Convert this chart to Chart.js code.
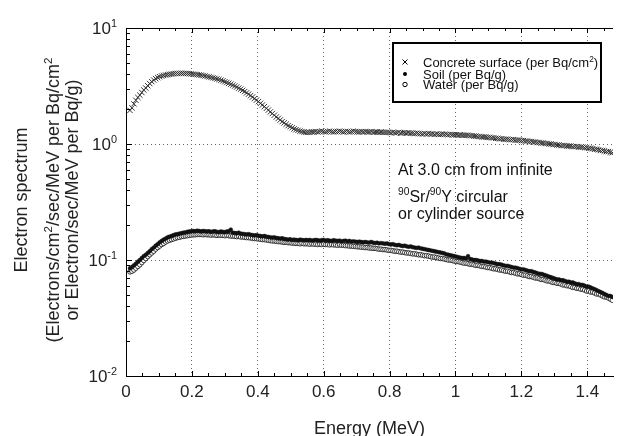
<!DOCTYPE html>
<html lang="en">
<head>
<meta charset="UTF-8">
<title>Electron spectrum</title>
<script src="https://cdn.jsdelivr.net/npm/chart.js"></script>
<style>
  html, body { margin: 0; padding: 0; background: #fff; }
  #wrap { position: relative; width: 618px; height: 436px; }
</style>
</head>
<body>
<div id="wrap"><canvas id="spectrum" width="618" height="436"></canvas></div>
<script>
// energy grid (MeV): first point and spacing of the sampled spectrum
const E_FIRST = 0.012, E_STEP = 0.006;

// Concrete surface (per Bq/cm2)
const concrete = [
  1.95,2.05,2.22,2.38,2.52,2.64,2.78,2.92,3.04,3.18,
  3.32,3.45,3.56,3.66,3.74,3.80,3.86,3.90,3.93,3.96,
  3.99,4.01,4.03,4.05,4.06,4.06,4.07,4.06,4.06,4.05,
  4.04,4.02,4.00,3.98,3.96,3.94,3.92,3.89,3.86,3.82,
  3.79,3.75,3.72,3.68,3.64,3.60,3.55,3.50,3.44,3.39,
  3.34,3.28,3.22,3.16,3.10,3.03,2.97,2.90,2.83,2.76,
  2.69,2.61,2.54,2.46,2.39,2.32,2.24,2.17,2.10,2.03,
  1.96,1.89,1.83,1.77,1.71,1.66,1.61,1.56,1.52,1.48,
  1.44,1.41,1.38,1.35,1.33,1.31,1.29,1.28,1.27,1.26,
  1.26,1.26,1.27,1.27,1.28,1.27,1.28,1.29,1.28,1.27,
  1.28,1.29,1.28,1.27,1.28,1.28,1.29,1.28,1.27,1.28,
  1.28,1.27,1.28,1.29,1.28,1.27,1.27,1.28,1.27,1.28,
  1.27,1.27,1.28,1.26,1.27,1.27,1.26,1.27,1.26,1.26,
  1.26,1.26,1.25,1.26,1.25,1.25,1.26,1.24,1.25,1.25,
  1.24,1.25,1.24,1.24,1.23,1.24,1.23,1.23,1.22,1.23,
  1.22,1.23,1.22,1.22,1.21,1.22,1.21,1.21,1.22,1.21,
  1.21,1.20,1.21,1.20,1.20,1.20,1.19,1.20,1.19,1.19,
  1.19,1.19,1.18,1.18,1.17,1.17,1.16,1.16,1.15,1.15,
  1.15,1.14,1.14,1.13,1.13,1.12,1.12,1.11,1.11,1.10,
  1.10,1.10,1.09,1.09,1.09,1.08,1.08,1.08,1.07,1.07,
  1.06,1.06,1.05,1.05,1.04,1.04,1.03,1.03,1.02,1.02,
  1.01,1.01,1.00,1.00,0.99,0.99,0.98,0.98,0.97,0.97,
  0.97,0.96,0.96,0.96,0.95,0.95,0.95,0.94,0.94,0.94,
  0.93,0.93,0.92,0.92,0.91,0.90,0.90,0.89,0.88,0.88,
  0.87,0.86,0.86,0.85,0.84
];

// Soil (per Bq/g)
const soil = [
  .085,.087,.090,.093,.097,.100,.104,.108,.111,.115,
  .119,.124,.128,.133,.137,.142,.146,.150,.153,.157,
  .159,.161,.164,.166,.167,.169,.170,.172,.173,.175,
  .176,.177,.178,.177,.179,.178,.176,.178,.177,.176,
  .177,.175,.176,.177,.175,.174,.176,.175,.174,.176,
  .177,.183,.172,.171,.170,.172,.169,.168,.167,.166,
  .167,.165,.164,.163,.164,.162,.161,.160,.161,.159,
  .158,.157,.156,.157,.155,.154,.153,.154,.152,.151,
  .150,.151,.149,.150,.149,.148,.150,.149,.148,.149,
  .148,.149,.147,.148,.149,.148,.147,.148,.149,.147,
  .148,.147,.146,.148,.147,.146,.147,.145,.146,.147,
  .145,.146,.144,.145,.144,.143,.144,.143,.142,.143,
  .142,.141,.143,.141,.140,.141,.139,.140,.139,.138,
  .139,.137,.136,.137,.135,.134,.135,.133,.132,.133,
  .131,.130,.131,.129,.128,.127,.128,.126,.125,.124,
  .123,.122,.121,.120,.119,.118,.117,.116,.115,.114,
  .112,.111,.110,.109,.108,.107,.106,.105,.104,.104,
  .103,.108,.102,.101,.100,.100,.099,.098,.098,.097,
  .097,.096,.095,.095,.094,.093,.092,.092,.091,.090,
  .089,.089,.088,.087,.086,.086,.085,.084,.083,.083,
  .082,.081,.080,.080,.079,.078,.077,.076,.076,.075,
  .074,.073,.072,.071,.070,.069,.068,.068,.067,.067,
  .066,.065,.065,.064,.064,.063,.062,.062,.061,.061,
  .060,.059,.059,.058,.057,.056,.055,.054,.053,.052,
  .051,.050,.049,.049,.048
];

// Water (per Bq/g)
const water = [
  .079,.080,.082,.085,.088,.091,.095,.099,.103,.107,
  .111,.115,.119,.124,.128,.132,.136,.139,.143,.146,
  .148,.150,.152,.154,.156,.157,.159,.160,.161,.162,
  .163,.164,.165,.165,.166,.166,.166,.165,.166,.165,
  .165,.164,.165,.164,.163,.164,.163,.163,.162,.163,
  .162,.161,.161,.160,.159,.160,.158,.158,.157,.156,
  .156,.155,.154,.153,.153,.152,.151,.150,.150,.149,
  .148,.147,.146,.146,.145,.144,.144,.143,.142,.142,
  .141,.141,.140,.140,.139,.139,.138,.139,.138,.138,
  .138,.137,.138,.137,.137,.136,.137,.136,.137,.136,
  .136,.135,.136,.135,.135,.134,.135,.134,.134,.133,
  .133,.132,.132,.131,.131,.130,.130,.129,.129,.128,
  .128,.127,.127,.126,.126,.125,.124,.124,.123,.123,
  .122,.121,.121,.120,.119,.119,.118,.117,.117,.116,
  .115,.115,.114,.113,.113,.112,.111,.111,.110,.109,
  .109,.108,.107,.106,.106,.105,.104,.103,.103,.102,
  .101,.100,.100,.099,.098,.097,.097,.096,.095,.094,
  .094,.093,.092,.092,.091,.090,.090,.089,.088,.088,
  .087,.086,.086,.085,.084,.084,.083,.082,.082,.081,
  .080,.080,.079,.078,.078,.077,.076,.076,.075,.074,
  .074,.073,.072,.072,.071,.070,.070,.069,.068,.068,
  .067,.066,.066,.065,.064,.064,.063,.063,.062,.061,
  .061,.060,.060,.059,.058,.058,.057,.057,.056,.056,
  .055,.054,.054,.053,.053,.052,.051,.051,.050,.049,
  .048,.048,.047,.046,.045
];

const xTicks = [0, 0.2, 0.4, 0.6, 0.8, 1, 1.2, 1.4];
const xTickLabels = ['0', '0.2', '0.4', '0.6', '0.8', '1', '1.2', '1.4'];
const yTicks = [0.01, 0.1, 1, 10];
const yTickExp = ['-2', '-1', '0', '1'];

const FONT = '"Liberation Sans", Arial, Helvetica, sans-serif';
const energies = concrete.map((_, i) => +(E_FIRST + i * E_STEP).toFixed(3));
const pts = arr => arr.map((v, i) => ({ x: energies[i], y: v }));

// text with superscript pieces: segs = [[text, isSup], ...]
function richText(ctx, segs, x, y, size, align) {
  const widths = segs.map(([t, sup]) => {
    ctx.font = (sup ? size * 0.64 : size) + 'px ' + FONT;
    return ctx.measureText(t).width;
  });
  const total = widths.reduce((a, b) => a + b, 0);
  let cx = align === 'right' ? x - total : align === 'center' ? x - total / 2 : x;
  ctx.textAlign = 'left';
  ctx.textBaseline = 'alphabetic';
  segs.forEach(([t, sup], i) => {
    ctx.font = (sup ? size * 0.64 : size) + 'px ' + FONT;
    ctx.fillText(t, cx, sup ? y - size * 0.40 : y);
    cx += widths[i];
  });
}

const decorPlugin = {
  id: 'decor',
  afterDraw(chart) {
    const { ctx, chartArea: a, scales: { x, y } } = chart;
    ctx.save();
    ctx.strokeStyle = '#000';
    ctx.lineWidth = 1;

    // top frame line
    ctx.beginPath();
    ctx.moveTo(a.left, a.top + 0.5);
    ctx.lineTo(a.right, a.top + 0.5);
    ctx.stroke();

    // inward tick marks, bottom and top
    ctx.beginPath();
    for (let k = 0; k <= 29; k++) {
      const v = k * 0.05;
      const px = Math.round(x.getPixelForValue(v)) + 0.5;
      const len = k % 4 === 0 ? 5 : 3;
      ctx.moveTo(px, a.bottom); ctx.lineTo(px, a.bottom - len);
      ctx.moveTo(px, a.top); ctx.lineTo(px, a.top + len);
    }
    // inward tick marks, left
    for (let d = -2; d <= 0; d++) {
      for (let m = 1; m <= 9; m++) {
        const py = Math.round(y.getPixelForValue(m * Math.pow(10, d))) + 0.5;
        const len = m === 1 ? 6 : 4;
        ctx.moveTo(a.left, py); ctx.lineTo(a.left + len, py);
      }
    }
    ctx.stroke();

    // y tick labels 10^n
    ctx.fillStyle = '#222';
    yTicks.forEach((v, i) => {
      const py = y.getPixelForValue(v);
      richText(ctx, [['10', false], [yTickExp[i], true]], 117, py + 6, 17, 'right');
    });

    // y axis title (rotated)
    ctx.save();
    ctx.translate(0, 200);
    ctx.rotate(-Math.PI / 2);
    richText(ctx, [['Electron spectrum', false]], 0, 27, 18, 'center');
    richText(ctx, [['(Electrons/cm', false], ['2', true], ['/sec/MeV per Bq/cm', false], ['2', true]], 0, 59, 18, 'center');
    richText(ctx, [['or Electron/sec/MeV per Bq/g)', false]], 0, 78, 18, 'center');
    ctx.restore();

    // legend box
    ctx.fillStyle = '#fff';
    ctx.fillRect(393, 43, 208, 59);
    ctx.lineWidth = 2;
    ctx.strokeStyle = '#000';
    ctx.strokeRect(393, 43, 208, 59);
    ctx.lineWidth = 1;
    const lx = 405;
    // cross
    ctx.beginPath();
    ctx.moveTo(lx - 2.5, 59.5); ctx.lineTo(lx + 2.5, 64.5);
    ctx.moveTo(lx + 2.5, 59.5); ctx.lineTo(lx - 2.5, 64.5);
    ctx.stroke();
    // filled dot
    ctx.fillStyle = '#000';
    ctx.beginPath(); ctx.arc(lx, 74, 2, 0, Math.PI * 2); ctx.fill();
    // open circle
    ctx.beginPath(); ctx.arc(lx, 84.5, 2.2, 0, Math.PI * 2); ctx.stroke();
    ctx.fillStyle = '#111';
    richText(ctx, [['Concrete surface (per Bq/cm', false], ['2', true], [')', false]], 423, 67, 13, 'left');
    richText(ctx, [['Soil (per Bq/g)', false]], 423, 78.5, 13, 'left');
    richText(ctx, [['Water (per Bq/g)', false]], 423, 89, 13, 'left');

    // annotation
    richText(ctx, [['At 3.0 cm from infinite', false]], 398, 175, 16, 'left');
    richText(ctx, [['90', true], ['Sr/', false], ['90', true], ['Y circular', false]], 398, 201.5, 16, 'left');
    richText(ctx, [['or cylinder source', false]], 398, 218.5, 16, 'left');
    ctx.restore();
  }
};

new Chart(document.getElementById('spectrum'), {
  type: 'scatter',
  data: {
    datasets: [
      {
        label: 'Concrete surface (per Bq/cm²)',
        data: pts(concrete),
        pointStyle: 'crossRot',
        pointRadius: 3.8,
        borderColor: '#333',
        backgroundColor: 'transparent',
        borderWidth: 1
      },
      {
        label: 'Soil (per Bq/g)',
        data: pts(soil),
        pointStyle: 'circle',
        pointRadius: 1.9,
        backgroundColor: '#111',
        borderColor: '#111',
        borderWidth: 0.5
      },
      {
        label: 'Water (per Bq/g)',
        data: pts(water),
        pointStyle: 'circle',
        pointRadius: 2.3,
        backgroundColor: '#fff',
        borderColor: '#222',
        borderWidth: 0.9
      }
    ]
  },
  options: {
    responsive: false,
    animation: false,
    devicePixelRatio: 1,
    layout: { padding: { left: 0, right: 0, top: 28, bottom: 0 } },
    plugins: { legend: { display: false }, tooltip: { enabled: false } },
    scales: {
      x: {
        type: 'linear',
        min: 0,
        max: 1.478,
        afterBuildTicks: s => { s.ticks = xTicks.map(v => ({ value: v })); },
        afterFit: s => { s.height = 60; },
        ticks: {
          includeBounds: false,
          font: { family: FONT, size: 17 },
          color: '#222',
          padding: 6,
          maxRotation: 0,
          callback: (v) => xTickLabels[xTicks.indexOf(v)] ?? ''
        },
        grid: { color: '#666', lineWidth: 1, drawTicks: false },
        border: { display: true, color: '#000', width: 1, dash: [1, 3] },
        title: {
          display: true,
          text: 'Energy (MeV)',
          font: { family: FONT, size: 18 },
          color: '#222',
          padding: { top: 0, bottom: -4 }
        }
      },
      y: {
        type: 'logarithmic',
        min: 0.01,
        max: 10,
        afterBuildTicks: s => { s.ticks = yTicks.map(v => ({ value: v })); },
        afterFit: s => { s.width = 126; },
        ticks: { display: false },
        grid: { color: '#666', lineWidth: 1, drawTicks: false },
        border: { display: true, color: '#000', width: 1, dash: [1, 3] }
      }
    }
  },
  plugins: [decorPlugin]
});
</script>
</body>
</html>
